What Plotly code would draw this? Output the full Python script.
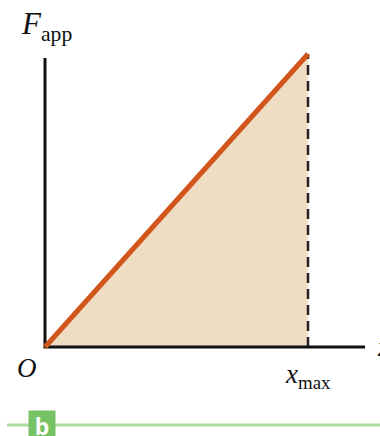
import plotly.graph_objects as go

# Data (normalised units: x in units of x_max, F in units of F_max)
x_vals = [0.0, 1.0]
f_vals = [0.0, 1.0]
x_axis_end = 1.217
y_axis_end = 0.986

W, H = 380, 436
x0_px, x1_px = 45, 308
y0_px, y1_px = 347, 54
sx = x1_px - x0_px
sy = y0_px - y1_px
xr = [(0 - x0_px) / sx, (W - x0_px) / sx]
yr = [(y0_px - H) / sy, (y0_px - 0) / sy]

fig = go.Figure()
fig.add_trace(go.Scatter(x=[x_vals[0], x_vals[1], x_vals[1]], y=[f_vals[0], f_vals[1], 0],
                         fill="toself", fillcolor="#EEDCC3", line=dict(width=0),
                         mode="lines", hoverinfo="skip", showlegend=False))
fig.add_trace(go.Scatter(x=[x_vals[1], x_vals[1]], y=[0, f_vals[1]], mode="lines",
                         line=dict(color="#222222", width=2.5, dash="10px,6px"), showlegend=False))
fig.add_trace(go.Scatter(x=[0, 0, x_axis_end], y=[y_axis_end, 0, 0], mode="lines",
                         line=dict(color="#111111", width=3), showlegend=False))
fig.add_trace(go.Scatter(x=x_vals, y=f_vals, mode="lines",
                         line=dict(color="#D2561C", width=5), showlegend=False))

serif = "Liberation Serif, Times New Roman, serif"
fig.add_annotation(x=-0.1, y=1.095, xref="x", yref="y", text="<i>F</i><sub>app</sub>",
                   showarrow=False, font=dict(family=serif, size=31, color="#111"), xanchor="left", yanchor="middle")
fig.add_annotation(x=-0.07, y=-0.07, xref="x", yref="y", text="<i>O</i>",
                   showarrow=False, font=dict(family=serif, size=27, color="#111"))
fig.add_annotation(x=1.0, y=-0.1, xref="x", yref="y", text="<i>x</i><sub>max</sub>",
                   showarrow=False, font=dict(family=serif, size=27, color="#111"))
fig.add_annotation(x=1.255, y=0.0, xref="x", yref="y", text="<i>x</i>",
                   showarrow=False, font=dict(family=serif, size=27, color="#111"), xanchor="left")

fig.add_shape(type="line", xref="paper", yref="paper", x0=7/W, x1=1, y0=1-425/H, y1=1-425/H,
              line=dict(color="#A9DBA0", width=3), layer="below")
fig.add_annotation(x=42/W, y=0, xref="paper", yref="paper", text="<b>b</b>", showarrow=False,
                   xanchor="center", yanchor="bottom", yshift=-6, width=26, height=30,
                   borderpad=0, bgcolor="#77C265", valign="middle",
                   font=dict(family="Open Sans, sans-serif", size=23, color="white"))

fig.update_layout(width=W, height=H, margin=dict(l=0, r=0, t=0, b=0),
                  plot_bgcolor="white", paper_bgcolor="white",
                  xaxis=dict(range=xr, visible=False, fixedrange=True),
                  yaxis=dict(range=yr, visible=False, fixedrange=True))
fig.write_html("out.html", config={"displayModeBar": False},
               post_script="document.body.style.margin='0px';document.body.style.overflow='hidden';")
